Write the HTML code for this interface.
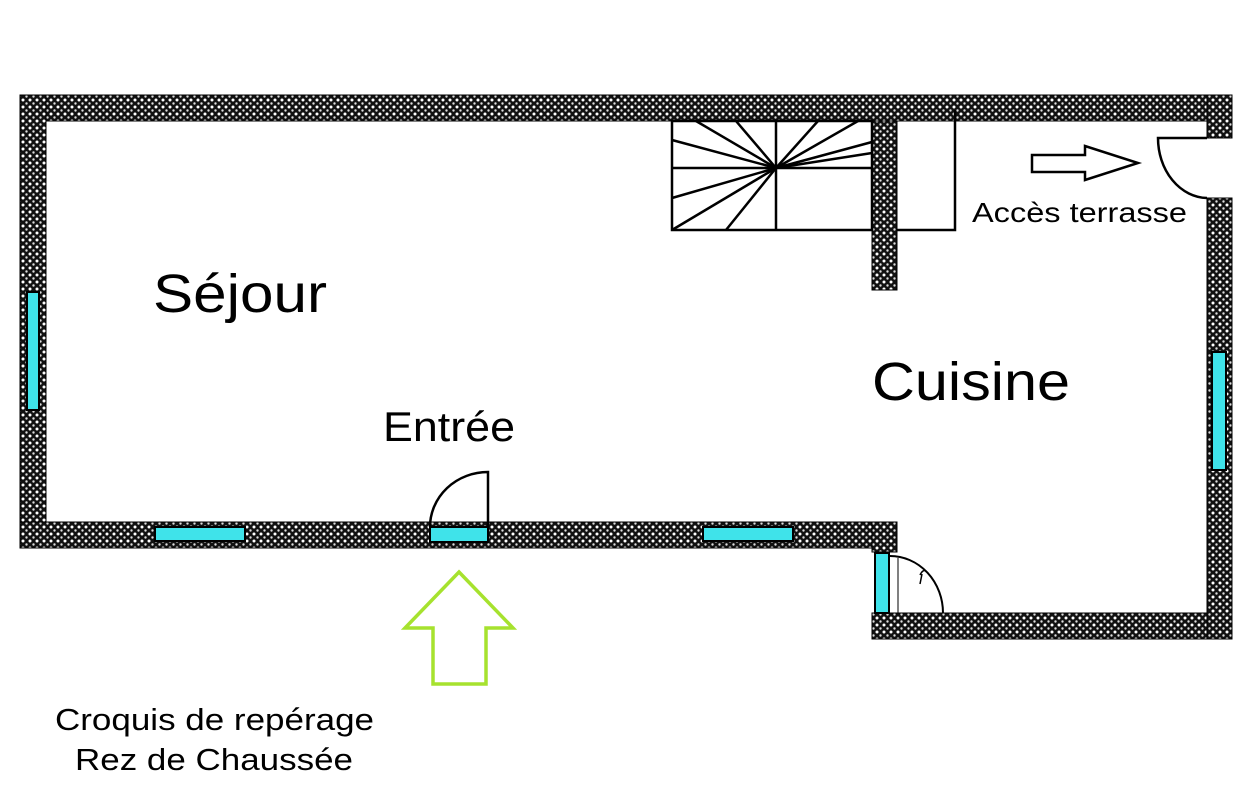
<!DOCTYPE html>
<html><head><meta charset="utf-8"><style>
html,body{margin:0;padding:0;background:#fff;width:1248px;height:800px;overflow:hidden}
text{font-family:"Liberation Sans",sans-serif;fill:#000}
</style></head><body>
<svg width="1248" height="800" viewBox="0 0 1248 800" xmlns="http://www.w3.org/2000/svg">
<defs>
<pattern id="w" width="7" height="7" patternUnits="userSpaceOnUse">
<rect width="7" height="7" fill="#111"/>
<circle cx="2" cy="2" r="1.5" fill="#fff"/>
<circle cx="5.5" cy="5.5" r="1.2" fill="#ddd"/>
</pattern>
</defs>
<g fill="url(#w)" stroke="#000" stroke-width="1">
<rect x="20" y="95" width="1212" height="26"/>
<rect x="20" y="95" width="26" height="453"/>
<rect x="20" y="522" width="877" height="26"/>
<rect x="872" y="522" width="25" height="30"/>
<rect x="872" y="613" width="360" height="26"/>
<rect x="1207" y="95" width="25" height="43"/>
<rect x="1207" y="198" width="25" height="441"/>
<rect x="872" y="121" width="25" height="169"/>
</g>
<g fill="#3fe3ea" stroke="#000" stroke-width="2">
<rect x="27" y="292" width="12" height="118"/>
<rect x="155" y="527" width="90" height="14"/>
<rect x="430" y="527" width="58" height="15"/>
<rect x="703" y="527" width="90" height="14"/>
<rect x="1212" y="352" width="14" height="118"/>
<rect x="875" y="553" width="14" height="60"/>
</g>
<g fill="none" stroke="#000" stroke-width="2.5">
<rect x="672" y="121" width="200" height="109"/>
<line x1="776" y1="121" x2="776" y2="230"/>
<line x1="672" y1="168" x2="872" y2="168"/>
<line x1="776" y1="168" x2="696" y2="121"/>
<line x1="776" y1="168" x2="736" y2="121"/>
<line x1="776" y1="168" x2="818" y2="121"/>
<line x1="776" y1="168" x2="858" y2="121"/>
<line x1="776" y1="168" x2="672" y2="140"/>
<line x1="776" y1="168" x2="672" y2="198"/>
<line x1="776" y1="168" x2="672" y2="230"/>
<line x1="776" y1="168" x2="726" y2="230"/>
<line x1="776" y1="168" x2="872" y2="142"/>
<line x1="776" y1="168" x2="872" y2="153"/>
<polyline points="955,110 955,230 897,230"/>
<path d="M430,527 A58,55 0 0 1 488,472 L488,527"/>
<path d="M1207,138 L1158,138 A50,60 0 0 0 1207,198"/>
<path d="M890,556 A53,57 0 0 1 943,613" stroke-width="2"/>
<path d="M920,575 q3,-6 6,-4 M922,574 l-2,10" stroke-width="1.5"/>
<polygon points="1032,155 1085,155 1085,146 1138,163 1085,180 1085,172 1032,172" stroke-width="2.5"/>
</g>
<line x1="898" y1="558" x2="898" y2="613" stroke="#000" stroke-width="1"/>
<polygon points="459,572 513,628 486,628 486,684 433,684 433,628 405,628" fill="none" stroke="#a6e22e" stroke-width="3.5"/>
<text x="153" y="312" font-size="54" textLength="174" lengthAdjust="spacingAndGlyphs">Séjour</text>
<text x="872" y="400" font-size="54" textLength="198" lengthAdjust="spacingAndGlyphs">Cuisine</text>
<text x="383" y="441" font-size="42" textLength="132" lengthAdjust="spacingAndGlyphs">Entrée</text>
<text x="972" y="222" font-size="28" textLength="215" lengthAdjust="spacingAndGlyphs">Accès terrasse</text>
<text x="55" y="730" font-size="31" textLength="319" lengthAdjust="spacingAndGlyphs">Croquis de repérage</text>
<text x="75" y="770" font-size="31" textLength="278" lengthAdjust="spacingAndGlyphs">Rez de Chaussée</text>
</svg>
</body></html>
